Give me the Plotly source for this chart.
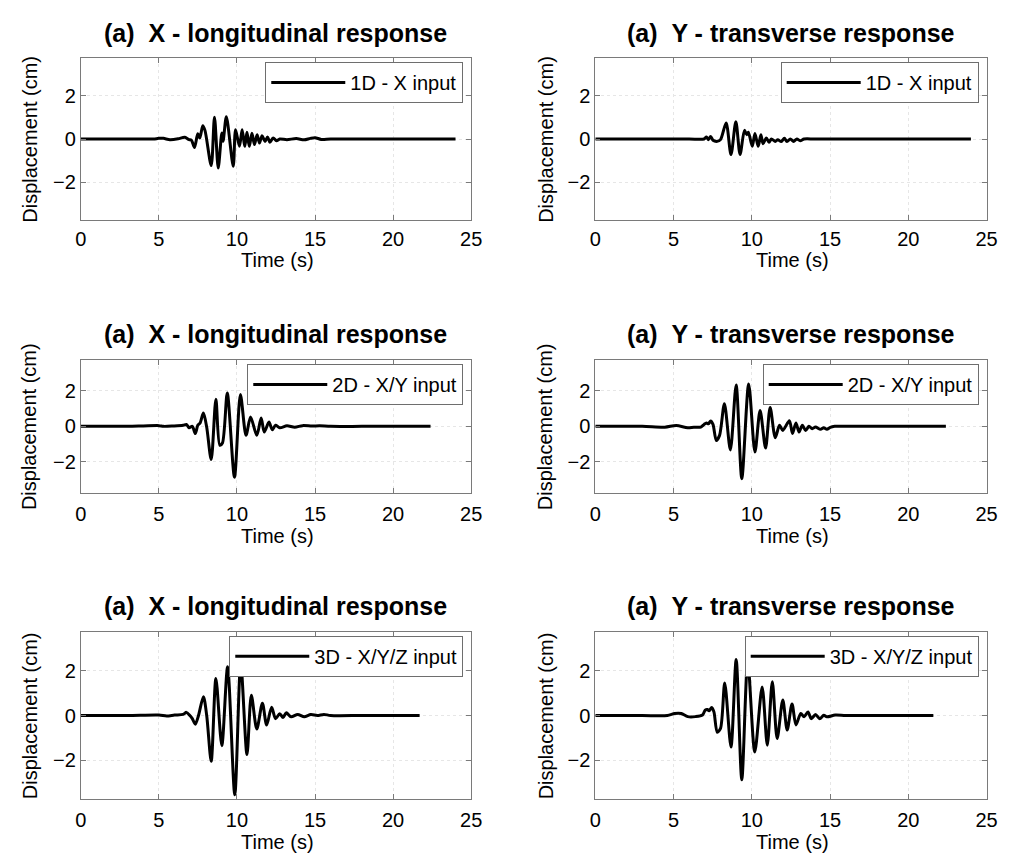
import plotly.graph_objects as go

# ---------------- data ----------------
time_ticks = [0, 5, 10, 15, 20, 25]
disp_ticks = [-2, 0, 2]

titles = ["(a)&nbsp;&nbsp;X - longitudinal response", "(a)&nbsp;&nbsp;Y - transverse response"]
legend_labels = ["1D - X input", "2D - X/Y input", "3D - X/Y/Z input"]

# 1D input, X response
t_x1d = [0, 2, 4, 4.66, 5.0, 5.29, 5.71, 6.23, 6.66, 6.93, 7.08, 7.28, 7.49, 7.62, 7.81, 7.95,
         8.35, 8.56, 8.80, 9.03, 9.11, 9.32, 9.76, 9.91, 10.16, 10.33, 10.50, 10.64, 10.79,
         10.96, 11.12, 11.29, 11.44, 11.61, 11.80, 11.96, 12.11, 12.32, 12.53, 12.74, 13.2,
         13.8, 14.3, 14.7, 15.0, 15.4, 16, 18, 20, 22, 24.0]
d_x1d = [0, 0, 0, 0, 0.03, 0.03, -0.03, 0.01, 0.08, -0.03, -0.05, -0.39, 0.24, 0.05, 0.61, 0.40,
         -1.23, 1.01, -1.34, 0.28, -0.10, 1.03, -1.26, 0.43, -0.34, 0.43, -0.34, 0.31, -0.34,
         0.27, -0.26, 0.20, -0.19, 0.15, -0.11, 0.09, -0.15, 0.05, -0.08, 0.0, -0.03,
         0.02, -0.04, 0.03, 0.06, -0.02, 0, 0, 0, 0, 0]

# 1D input, Y response
t_y1d = [0, 3, 6, 6.95, 7.10, 7.22, 7.37, 7.52, 7.79, 8.00, 8.36, 8.67, 8.98, 9.25, 9.53, 9.68,
         9.78, 10.03, 10.20, 10.41, 10.58, 10.72, 10.93, 11.10, 11.25, 11.50, 11.66, 11.88,
         12.08, 12.25, 12.46, 12.67, 12.88, 13.09, 13.34, 14, 16, 18, 20, 22, 24.0]
d_y1d = [0, 0, 0, 0, 0.09, -0.03, 0.12, -0.06, -0.11, -0.03, 0.74, -0.72, 0.80, -0.72, 0.40, 0.20,
         0.31, -0.34, 0.25, -0.34, 0.20, -0.22, 0.05, -0.15, 0.00, -0.11, -0.03, -0.12,
         0.03, -0.12, 0.00, -0.11, 0.0, -0.08, 0, 0, 0, 0, 0, 0, 0]

# 2D input, X response
t_x2d = [0, 3, 4, 5, 5.29, 5.92, 6.55, 6.76, 6.93, 7.14, 7.33, 7.49, 7.64, 7.85, 8.06, 8.35,
         8.65, 8.90, 9.07, 9.38, 9.84, 10.22, 10.58, 10.87, 11.27, 11.55, 11.75, 12.05, 12.26,
         12.47, 12.74, 13.2, 13.7, 14.2, 14.8, 15.3, 16, 18, 20, 22.4]
d_x2d = [0, 0, 0.02, 0.04, 0.0, 0.02, 0.06, 0.11, -0.08, 0.0, -0.41, 0.06, 0.19, 0.75, -0.04, -1.88,
         1.53, -1.07, -0.94, 1.88, -2.87, 1.80, -0.51, 0.53, -0.51, 0.47, -0.32, 0.24, -0.19,
         0.06, -0.08, 0.03, -0.05, 0.04, 0.02, 0.03, 0, 0, 0, 0]

# 2D input, Y response
t_y2d = [0, 3, 4.44, 5.17, 5.9, 6.3, 6.74, 6.95, 7.10, 7.23, 7.37, 7.52, 7.73, 7.94, 8.25, 8.63,
         9.00, 9.36, 9.80, 10.20, 10.53, 10.88, 11.17, 11.50, 11.77, 11.98, 12.40, 12.60, 12.82,
         13.02, 13.23, 13.44, 13.65, 13.86, 14.07, 14.39, 14.59, 14.80, 15.01, 15.3, 16, 18, 20, 22.4]
d_y2d = [0, 0, -0.05, 0.05, -0.08, -0.05, -0.04, 0.11, 0.19, 0.15, 0.30, 0.11, -0.80, -0.51, 1.28, -1.33,
         2.34, -2.96, 2.40, -1.45, 0.90, -1.23, 1.07, -0.64, 0.06, -0.23, 0.32, -0.40, 0.19,
         -0.32, 0.06, -0.23, 0.0, -0.13, -0.04, -0.17, -0.08, -0.17, -0.06, 0, 0, 0, 0, 0]

# 3D input, X response
t_x3d = [0, 3, 5, 5.5, 6.0, 6.55, 6.76, 6.97, 7.14, 7.33, 7.54, 7.85, 8.06, 8.35, 8.65, 9.03,
         9.40, 9.86, 10.24, 10.64, 10.92, 11.27, 11.63, 11.90, 12.22, 12.47, 12.74, 12.95, 13.16,
         13.47, 13.89, 14.31, 14.73, 15.15, 15.57, 16.0, 18, 20, 21.7]
d_x3d = [0, 0, 0.02, -0.02, 0.02, 0.05, 0.14, 0.01, -0.14, -0.39, 0.01, 0.84, 0.01, -2.05, 1.66, -1.35,
         2.18, -3.55, 2.35, -1.75, 0.91, -0.60, 0.55, -0.43, 0.37, -0.14, 0.08, -0.09, 0.12,
         -0.06, 0.05, -0.06, 0.04, 0, 0.05, 0, 0, 0, 0]

# 3D input, Y response
t_y3d = [0, 3, 4.6, 5.07, 5.49, 5.91, 6.4, 6.85, 7.02, 7.16, 7.27, 7.44, 7.58, 7.79, 8.00, 8.27,
         8.67, 9.00, 9.36, 9.74, 10.19, 10.66, 10.99, 11.31, 11.62, 11.98, 12.26, 12.57, 12.82,
         13.13, 13.34, 13.59, 13.80, 14.07, 14.34, 14.60, 14.80, 15.33, 16, 18, 20, 21.6]
d_y3d = [0, 0, 0, 0.09, 0.09, -0.05, -0.05, 0.02, 0.24, 0.27, 0.21, 0.36, 0.16, -0.75, -0.58, 1.45,
         -1.41, 2.51, -2.88, 2.45, -1.63, 1.27, -1.33, 1.51, -1.03, 0.69, -0.65, 0.52, -0.42,
         0.09, -0.06, 0.16, -0.14, 0.04, -0.14, 0.01, -0.06, 0.02, 0, 0, 0, 0]

x_label = "Time (s)"
y_label = "Displacement (cm)"

# ---------------- layout ----------------
OFF = 8                      # default body margin of the html page
W, H = 1013 - OFF, 859 - OFF
FONT = "Liberation Sans, Arial, Helvetica, sans-serif"
col_px = [(76, 473), (599.3, 997.3)]
row_px = [(58, 220), (360, 492.7), (631.7, 799.3)]
title_cy = [33.0, 334.2, 606.2]
xlab_cy = [260.0, 536.3, 842.2]
xtick_standoff = [1, 3, 3]
ylab_cx = [24, 549]


def px(x):
    return (x - OFF) / W


def py(y):
    return 1 - (y - OFF) / H


series = [(t_x1d, d_x1d), (t_y1d, d_y1d),
          (t_x2d, d_x2d), (t_y2d, d_y2d),
          (t_x3d, d_x3d), (t_y3d, d_y3d)]

fig = go.Figure()
annotations = []
layout_upd = {}
for i, (t, d) in enumerate(series):
    r, c = divmod(i, 2)
    k = i + 1
    sfx = "" if k == 1 else str(k)
    x0, x1 = col_px[c]
    y0, y1 = row_px[r]
    fig.add_trace(go.Scatter(
        x=t, y=d, mode="lines", name=legend_labels[r],
        line=dict(color="black", width=3, shape="spline", smoothing=0.8),
        xaxis="x" + sfx, yaxis="y" + sfx, legend="legend" + sfx, showlegend=True,
    ))
    common = dict(showline=True, linecolor="#7a7a7a", linewidth=1, mirror="ticks",
                  ticks="inside", ticklen=5, tickcolor="#7a7a7a", tickwidth=1,
                  showgrid=True, gridcolor="#e6e6e6", griddash="dot", gridwidth=1,
                  zeroline=False, tickfont=dict(family=FONT, size=20, color="black"))
    layout_upd["xaxis" + sfx] = dict(domain=[px(x0), px(x1)], anchor="y" + sfx,
                                     range=[0, 25], tickvals=time_ticks,
                                     ticklabelstandoff=xtick_standoff[r], **common)
    layout_upd["yaxis" + sfx] = dict(domain=[py(y1), py(y0)], anchor="x" + sfx,
                                     range=[-3.75, 3.75], tickvals=disp_ticks, **common)
    layout_upd["legend" + sfx] = dict(x=px(x1 - 8), y=py(y0 + 4),
                                      xanchor="right", yanchor="top",
                                      bgcolor="white", bordercolor="#6e6e6e", borderwidth=1,
                                      font=dict(family=FONT, size=20, color="black"),
                                      itemwidth=74)
    cx = (x0 + x1) / 2
    annotations.append(dict(x=px(cx), y=py(title_cy[r]), xref="paper", yref="paper",
                            text="<b>" + titles[c] + "</b>", showarrow=False,
                            xanchor="center", yanchor="middle",
                            font=dict(family=FONT, size=25, color="black")))
    annotations.append(dict(x=px(cx + 1.5), y=py(xlab_cy[r]), xref="paper", yref="paper",
                            text=x_label, showarrow=False, xanchor="center", yanchor="middle",
                            font=dict(family=FONT, size=20, color="black")))
    annotations.append(dict(x=px(ylab_cx[c]), y=py((y0 + y1) / 2), xref="paper", yref="paper",
                            text=y_label, showarrow=False, textangle=-90,
                            xanchor="center", yanchor="middle",
                            font=dict(family=FONT, size=20, color="black")))

fig.update_layout(**layout_upd)
fig.update_layout(
    width=W, height=H, margin=dict(l=0, r=0, t=0, b=0),
    paper_bgcolor="white", plot_bgcolor="white",
    annotations=annotations,
)
fig.write_html("out.html")
